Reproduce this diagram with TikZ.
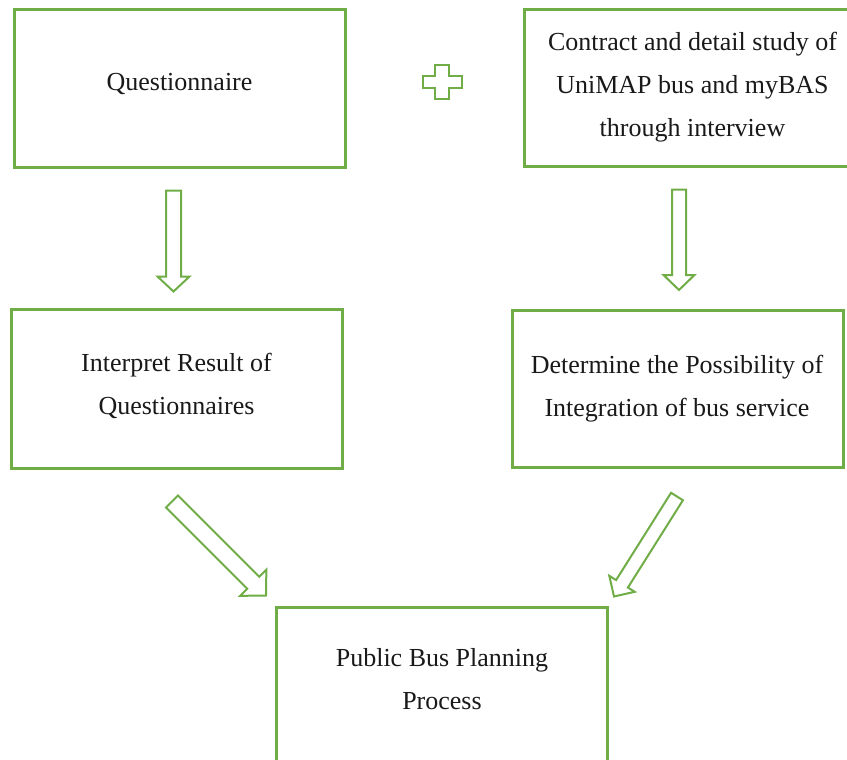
\documentclass[tikz,border=0pt]{standalone}
\usepackage{fontspec}
\setmainfont{Liberation Serif}
\usetikzlibrary{calc}

\definecolor{boxgreen}{HTML}{70AD47}

% hollow block arrow: start, tip, half shaft width, half head width, head length
\newcommand{\hollowarrow}[5]{%
  \coordinate (hb) at ($(#2)!#5!(#1)$);
  \draw[blockarrow] ($(#1)!#3!90:(#2)$) -- ($(hb)!#3!90:(#2)$) -- ($(hb)!#4!90:(#2)$) -- (#2)
    -- ($(hb)!#4!-90:(#2)$) -- ($(hb)!#3!-90:(#2)$) -- ($(#1)!#3!-90:(#2)$) -- cycle;
}

\begin{document}
\begin{tikzpicture}[
        x=1pt, y=-1pt,
        stepbox/.style={draw=boxgreen, line width=3pt, minimum width=331pt, minimum height=157pt, inner sep=0pt},
        boxtext/.style={align=center, text=black!90, font={\fontsize{26pt}{43pt}\selectfont}},
        blockarrow/.style={draw=boxgreen, line width=2pt, fill=white},
        plussign/.style={draw=boxgreen, line width=2.5pt, fill=white}
    ]
        \useasboundingbox (0,0) rectangle (847,760);
        \clip (0,0) rectangle (847,760);

        % === Boxes ===
        \node[stepbox] (quest) at (179.5,88.5) {};
        \node[stepbox] (contract) at (690,88) {};
        \node[stepbox, minimum height=159pt] (interp) at (176.5,388.5) {};
        \node[stepbox] (determ) at (678,389) {};
        \node[stepbox] (plan) at (442,685.5) {};

        \node[boxtext] (questtxt) at ([yshift=4pt]quest.center) {Questionnaire};
        \node[boxtext] (contracttxt) at ([xshift=2.5pt,yshift=0.5pt]contract.center)
            {Contract and detail study of\\UniMAP bus and myBAS\\through interview};
        \node[boxtext] (interptxt) at ([yshift=3pt]interp.center) {Interpret Result of\\Questionnaires};
        \node[boxtext] (determtxt) at ([xshift=-1pt,yshift=0pt]determ.center)
            {Determine the Possibility of\\Integration of bus service};
        \node[boxtext] (plantxt) at ([yshift=6pt]plan.center) {Public Bus Planning\\Process};

        % === Plus sign ===
        \draw[plussign, shift={(442,82)}] (-7,-17) -- (7,-17) -- (7,-6) -- (20,-6) -- (20,6) -- (7,6)
            -- (7,17) -- (-7,17) -- (-7,6) -- (-19,6) -- (-19,-6) -- (-7,-6) -- cycle;

        % === Arrows ===
        \coordinate (qs) at ([xshift=-6pt,yshift=-22pt]quest.south);
        \coordinate (it) at ([xshift=-3pt,yshift=16pt]interp.north);
        \coordinate (cs) at ([xshift=-11pt,yshift=-21.5pt]contract.south);
        \coordinate (dt) at ([xshift=1pt,yshift=19pt]determ.north);
        \coordinate (is) at ([xshift=-4.5pt,yshift=-32pt]interp.south);
        \coordinate (pl) at ([xshift=-9pt,yshift=10pt]plan.north west);
        \coordinate (ds) at ([xshift=-1pt,yshift=-27.5pt]determ.south);
        \coordinate (pr) at ([xshift=5pt,yshift=9pt]plan.north east);

        \hollowarrow{qs}{it}{7.5pt}{16pt}{15pt}
        \hollowarrow{cs}{dt}{7pt}{15.5pt}{15pt}
        \hollowarrow{is}{pl}{8.5pt}{18.5pt}{18pt}
        \hollowarrow{ds}{pr}{7pt}{15pt}{15pt}
    \end{tikzpicture}
\end{document}
